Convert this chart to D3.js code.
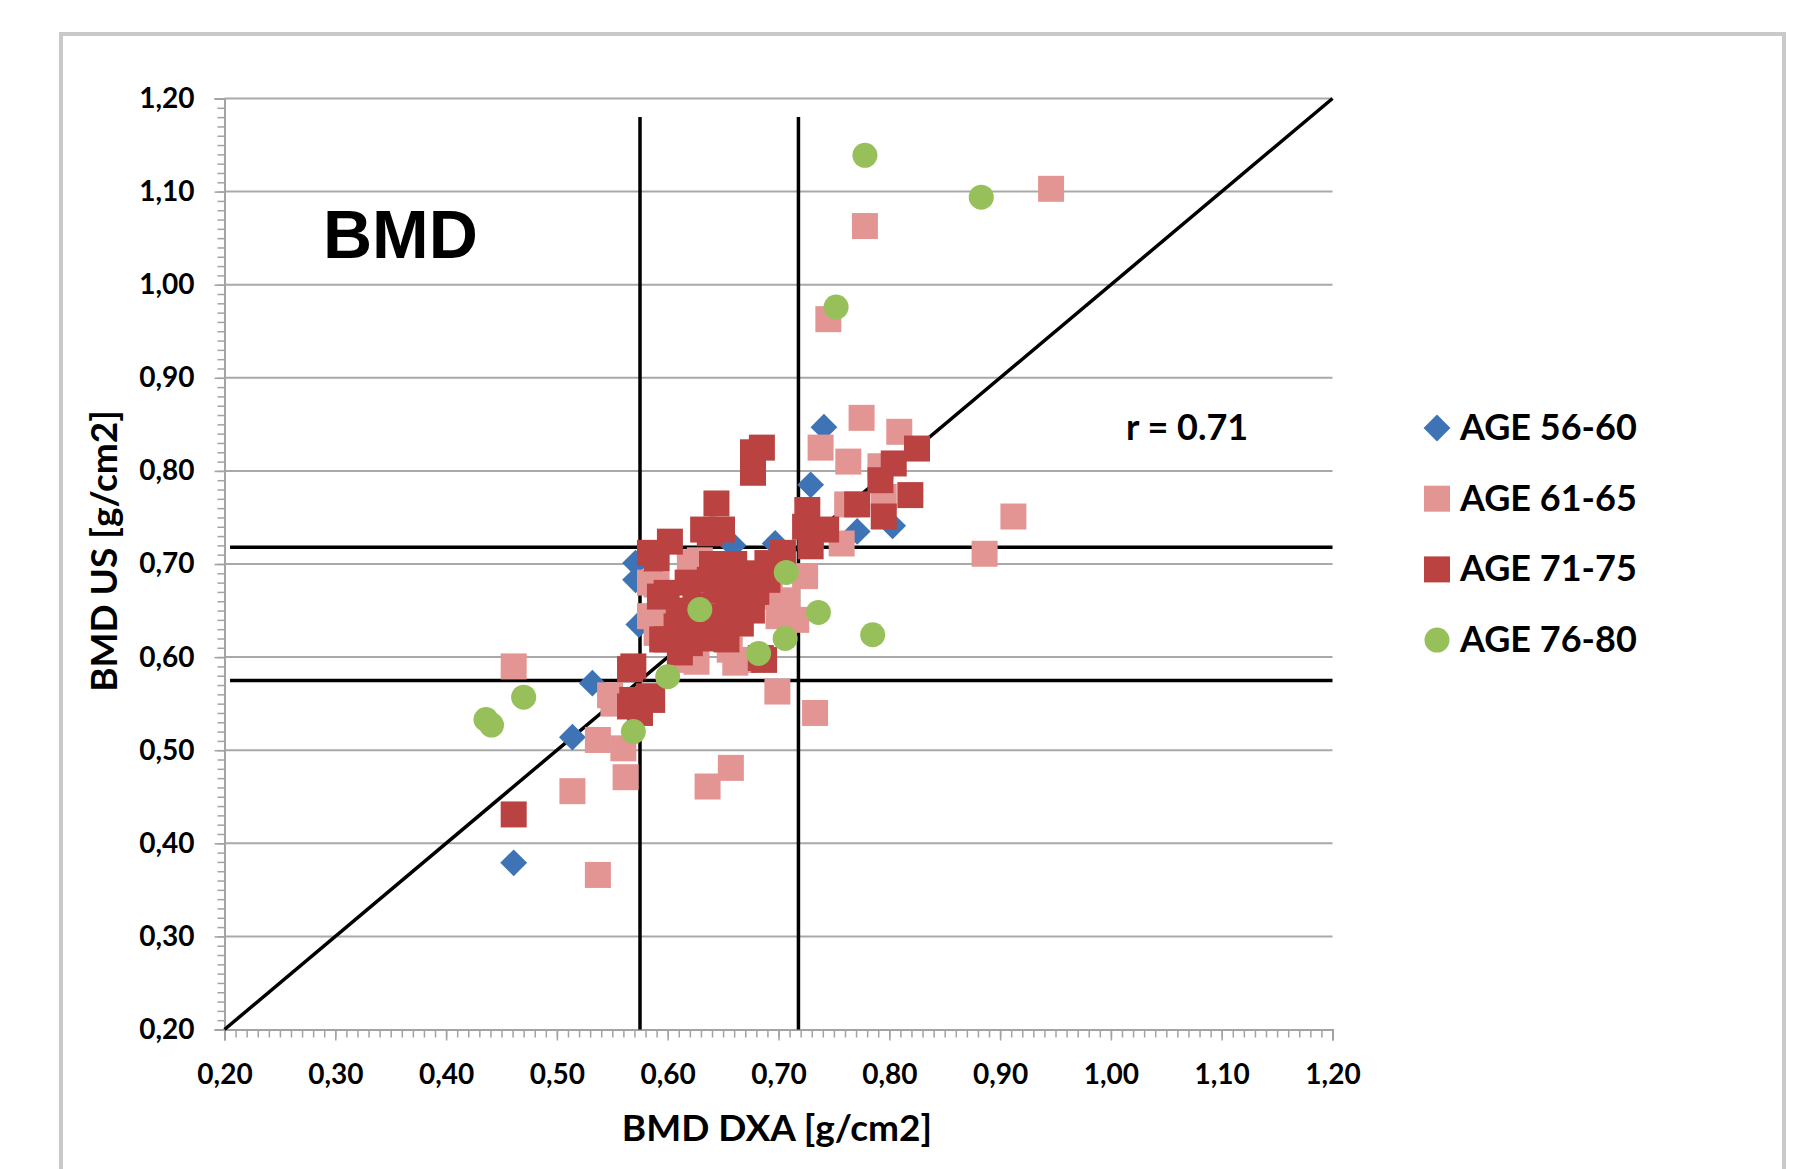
<!DOCTYPE html>
<html>
<head>
<meta charset="utf-8">
<script src="https://cdn.jsdelivr.net/npm/d3@7"></script>
<style>
  body { margin: 0; background: #fff; }
  text { font-family: Lato, "Open Sans", sans-serif; font-weight: bold; fill: #000; }
</style>
</head>
<body>
<div id="chart"></div>
<script>
// tick labels
const ticks = [0.2, 0.3, 0.4, 0.5, 0.6, 0.7, 0.8, 0.9, 1.0, 1.1, 1.2];

// AGE 56-60
const age56x = [0.741, 0.729, 0.771, 0.803, 0.697, 0.659, 0.571, 0.571, 0.574, 0.532, 0.514, 0.461];
const age56y = [0.847, 0.785, 0.735, 0.741, 0.722, 0.720, 0.701, 0.683, 0.635, 0.572, 0.514, 0.379];

// AGE 61-65
const age61x = [0.946, 0.778, 0.745, 0.775, 0.809, 0.738, 0.763, 0.912, 0.886, 0.733, 0.699, 0.657,
                0.636, 0.514, 0.537, 0.562, 0.560, 0.537, 0.548, 0.461, 0.762, 0.757, 0.724, 0.792,
                0.795, 0.708, 0.716, 0.629, 0.620, 0.584, 0.590, 0.584, 0.593, 0.590, 0.617, 0.626,
                0.656, 0.661, 0.668, 0.649, 0.700, 0.692, 0.551];
const age61y = [1.103, 1.063, 0.963, 0.857, 0.842, 0.825, 0.810, 0.751, 0.711, 0.540, 0.563, 0.481,
                0.461, 0.456, 0.366, 0.471, 0.502, 0.511, 0.559, 0.590, 0.764, 0.722, 0.687, 0.805,
                0.772, 0.661, 0.640, 0.704, 0.702, 0.680, 0.678, 0.644, 0.654, 0.626, 0.597, 0.595,
                0.608, 0.594, 0.597, 0.624, 0.644, 0.665, 0.550];

// AGE 71-75
const age71x = [0.461, 0.677, 0.685, 0.677, 0.644, 0.638, 0.649, 0.632, 0.602, 0.584, 0.590, 0.825,
                0.804, 0.792, 0.819, 0.771, 0.795, 0.726, 0.724, 0.743, 0.729, 0.729, 0.704,
                0.569, 0.568, 0.583, 0.566, 0.575, 0.566, 0.593, 0.599, 0.599, 0.608, 0.620, 0.638,
                0.650, 0.668, 0.671, 0.690, 0.690, 0.674, 0.663, 0.644, 0.629, 0.653, 0.687, 0.611,
                0.684, 0.666, 0.614, 0.635, 0.644, 0.662, 0.595, 0.614, 0.644, 0.586,
                0.655, 0.625, 0.680, 0.610, 0.640, 0.660, 0.652, 0.630, 0.676, 0.618];
const age71y = [0.431, 0.820, 0.825, 0.798, 0.765, 0.733, 0.737, 0.737, 0.724, 0.712, 0.706, 0.824,
                0.808, 0.790, 0.774, 0.764, 0.751, 0.758, 0.740, 0.737, 0.719, 0.730, 0.712,
                0.590, 0.554, 0.558, 0.587, 0.540, 0.547, 0.665, 0.669, 0.619, 0.633, 0.615, 0.683,
                0.694, 0.690, 0.686, 0.701, 0.683, 0.665, 0.644, 0.640, 0.633, 0.619, 0.597, 0.605,
                0.599, 0.636, 0.626, 0.644, 0.672, 0.665, 0.619, 0.636, 0.622, 0.554,
                0.660, 0.655, 0.670, 0.650, 0.700, 0.700, 0.680, 0.620, 0.650, 0.680];

// AGE 76-80
const age76x = [0.778, 0.883, 0.752, 0.436, 0.441, 0.470, 0.569, 0.600, 0.629, 0.707, 0.682, 0.706, 0.736, 0.785];
const age76y = [1.139, 1.094, 0.976, 0.533, 0.527, 0.557, 0.520, 0.579, 0.651, 0.691, 0.604, 0.620, 0.648, 0.624];

// cut-off lines and r
const cutLow = 0.575, cutHigh = 0.718;
const rLabel = "r = 0.71";

const series = [
  {name: "AGE 56-60", xs: age56x, ys: age56y, color: "#3e74b6", shape: "diamond"},
  {name: "AGE 61-65", xs: age61x, ys: age61y, color: "#e39594", shape: "square"},
  {name: "AGE 71-75", xs: age71x, ys: age71y, color: "#ba4240", shape: "square"},
  {name: "AGE 76-80", xs: age76x, ys: age76y, color: "#97c05a", shape: "circle"}
];

const W = 1820, H = 1169;
const svg = d3.select("#chart").append("svg")
  .attr("width", W).attr("height", H);

svg.append("rect").attr("width", W).attr("height", H).attr("fill", "#fff");

// outer frame
svg.append("rect")
  .attr("x", 61).attr("y", 34).attr("width", 1723).attr("height", H + 20)
  .attr("fill", "none").attr("stroke", "#c9c9c9").attr("stroke-width", 4);

const x = d3.scaleLinear().domain([0.2, 1.2]).range([224.5, 1332.5]);
const y = d3.scaleLinear().domain([0.2, 1.2]).range([1029.5, 98.5]);

const fmt = d => d.toFixed(2).replace(".", ",");

// gridlines
svg.append("g")
  .selectAll("line")
  .data(ticks.slice(1))
  .join("line")
    .attr("x1", x(0.2)).attr("x2", x(1.2))
    .attr("y1", d => y(d)).attr("y2", d => y(d))
    .attr("stroke", "#a9a9a9").attr("stroke-width", 2);

// minor ticks
const minor = d3.range(0.2, 1.2001, 0.01);

const yAxis = svg.append("g")
  .attr("transform", `translate(${x(0.2)},0)`)
  .call(d3.axisLeft(y).tickValues(minor).tickSize(7).tickFormat(""));
const yMajor = svg.append("g")
  .attr("transform", `translate(${x(0.2)},0)`)
  .call(d3.axisLeft(y).tickValues(ticks).tickSize(10).tickPadding(20).tickFormat(fmt));

const xAxis = svg.append("g")
  .attr("transform", `translate(0,${y(0.2)})`)
  .call(d3.axisBottom(x).tickValues(minor).tickSize(8).tickFormat(""));
const xMajor = svg.append("g")
  .attr("transform", `translate(0,${y(0.2)})`)
  .call(d3.axisBottom(x).tickValues(ticks).tickSize(11).tickPadding(24).tickFormat(fmt));

[yAxis, yMajor, xAxis, xMajor].forEach(g => {
  g.selectAll("path").attr("stroke", "#a3a3a3").attr("stroke-width", 2);
  g.selectAll("line").attr("stroke", "#a3a3a3").attr("stroke-width", 1.5);
  g.selectAll("text").style("font-size", "28px").attr("fill", "#000");
});

// reference lines
const lines = svg.append("g").attr("stroke", "#000").attr("stroke-width", 3.5);
[cutLow, cutHigh].forEach(v => {
  lines.append("line").attr("x1", x(v)).attr("x2", x(v)).attr("y1", y(1.18)).attr("y2", y(0.2));
  lines.append("line").attr("x1", x(0.205)).attr("x2", x(1.2)).attr("y1", y(v)).attr("y2", y(v));
});
lines.append("line")
  .attr("x1", x(0.2)).attr("y1", y(0.2))
  .attr("x2", x(1.2)).attr("y2", y(1.2));

// markers
function symbolFor(shape) {
  if (shape === "circle") return d3.symbol().type(d3.symbolCircle).size(Math.PI * 12.5 * 12.5)();
  if (shape === "square") return d3.symbol().type(d3.symbolSquare).size(26 * 26)();
  return d3.symbol().type(d3.symbolSquare).size(19 * 19)();
}
function rot(shape) { return shape === "diamond" ? " rotate(45)" : ""; }

series.forEach(s => {
  const pts = s.xs.map((v, i) => [v, s.ys[i]]);
  svg.append("g")
    .selectAll("path")
    .data(pts)
    .join("path")
      .attr("d", symbolFor(s.shape))
      .attr("transform", d => `translate(${x(d[0])},${y(d[1])})` + rot(s.shape))
      .attr("fill", s.color);
});

// texts
svg.append("text")
  .attr("x", 323).attr("y", 258)
  .style("font-family", "'Liberation Sans', Arial, sans-serif")
  .style("font-size", "68px")
  .text("BMD");

svg.append("text")
  .attr("x", 1126).attr("y", 440)
  .style("font-size", "36px")
  .text(rLabel);

svg.append("text")
  .attr("x", 777).attr("y", 1141)
  .attr("text-anchor", "middle")
  .style("font-size", "37px")
  .text("BMD DXA [g/cm2]");

svg.append("text")
  .attr("transform", "translate(117,551) rotate(-90)")
  .attr("text-anchor", "middle")
  .style("font-size", "37px")
  .text("BMD US [g/cm2]");

// legend
const legend = svg.append("g");
series.forEach((s, i) => {
  const ly = 428 + i * 70.7;
  legend.append("path")
    .attr("d", symbolFor(s.shape))
    .attr("transform", `translate(1437,${ly})` + rot(s.shape))
    .attr("fill", s.color);
  legend.append("text")
    .attr("x", 1460).attr("y", ly + 12)
    .style("font-size", "36px")
    .text(s.name);
});
</script>
</body>
</html>
